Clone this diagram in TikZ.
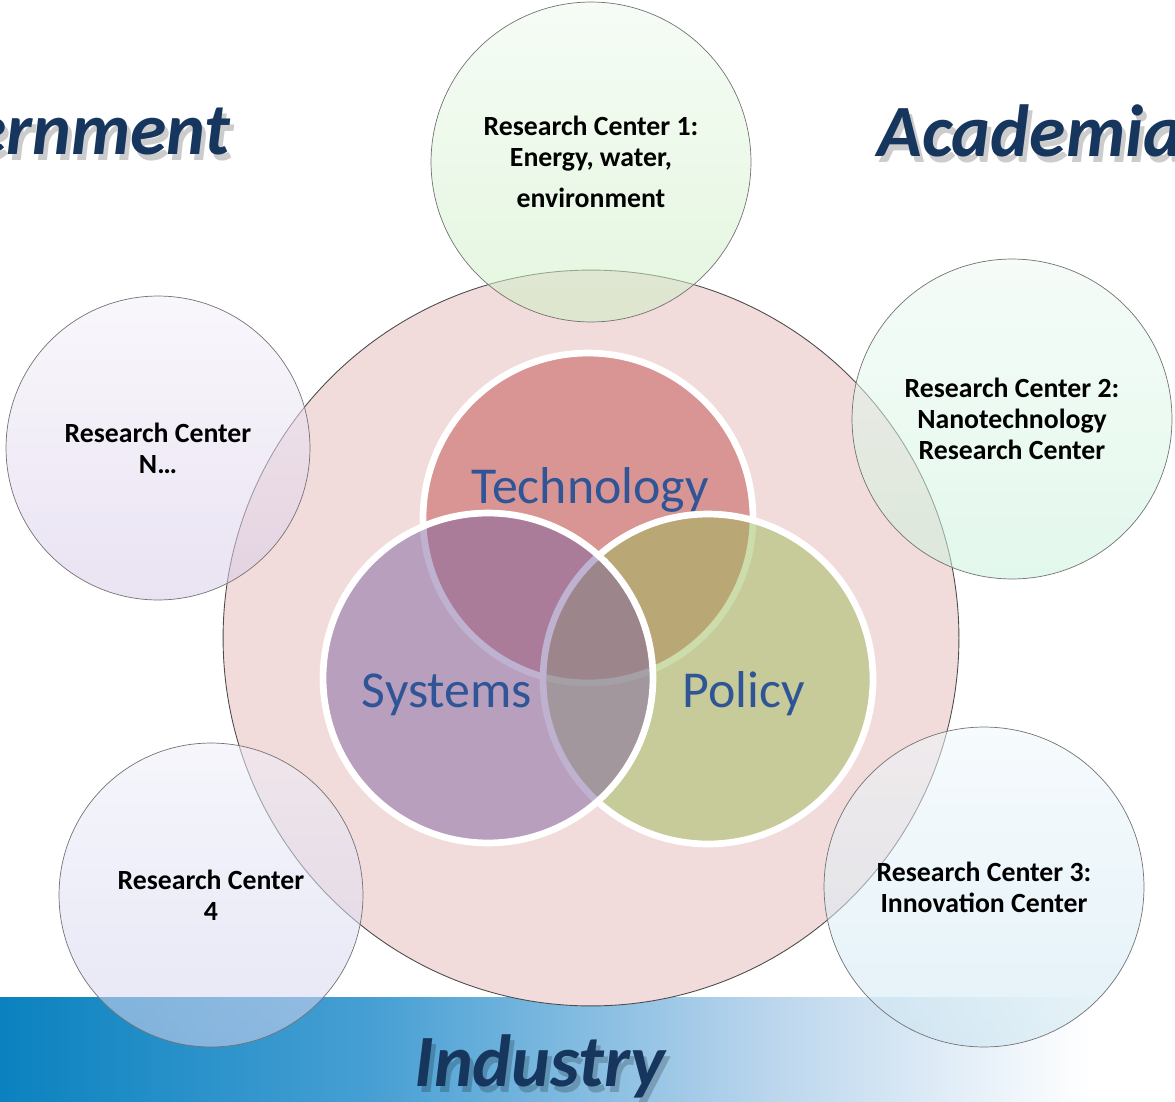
\documentclass[tikz,border=0pt]{standalone}
\usepackage{fontspec}
\setmainfont{Carlito}
\usetikzlibrary{positioning}
\usetikzlibrary{calc}
\definecolor{navy}{HTML}{17365D}
\definecolor{vennblue}{HTML}{2F5596}
\definecolor{ringpink}{HTML}{F2DCDB}
\definecolor{techred}{HTML}{C0504D}
\definecolor{syspurple}{HTML}{8064A2}
\definecolor{polgreen}{HTML}{9BBB59}
\definecolor{bandblue}{HTML}{0A82BF}
\definecolor{bandmid}{HTML}{48A0D4}
\definecolor{bandlight}{HTML}{B8D4EC}
\definecolor{greentop}{HTML}{EEF9EE}
\definecolor{greenbot}{HTML}{CDEFC4}
\definecolor{minttop}{HTML}{EEF9F3}
\definecolor{mintbot}{HTML}{CBF2DC}
\definecolor{skytop}{HTML}{EFF7FB}
\definecolor{skybot}{HTML}{CCE6F1}
\definecolor{lavtop}{HTML}{EEEEF9}
\definecolor{lavbot}{HTML}{D2D2EE}
\definecolor{liltop}{HTML}{F4F0F9}
\definecolor{lilbot}{HTML}{D8CCE8}
\tikzstyle{ring}=[circle,fill=ringpink,draw=black!70,line width=0.5pt,minimum size=14.72cm,inner sep=0pt]
\tikzstyle{venn}=[circle,draw=white,line width=3.8pt,fill opacity=0.5,minimum size=6.6cm,inner sep=0pt]
\tikzstyle{venntext}=[text=vennblue,font=\fontsize{29.5}{35}\selectfont,anchor=base,inner sep=0pt]
\tikzstyle{rcbig}=[circle,draw=black!55,line width=0.4pt,fill opacity=0.55,text opacity=1,minimum size=6.4cm,inner sep=0pt,align=center,font=\fontsize{15.8}{17.6}\selectfont\bfseries]
\tikzstyle{rcsmall}=[rcbig,minimum size=6.08cm]
\tikzstyle{sector}=[text=navy,font=\fontsize{42}{50}\selectfont\bfseries\itshape,inner sep=0pt]
\tikzstyle{sectorshadow}=[sector,text=black,text opacity=0.2,shift={(4,6)}]

\begin{document}
\begin{tikzpicture}[x=0.02cm,y=-0.02cm]

    \useasboundingbox (0,0) rectangle (1175,1101);
    \clip (0,0) rectangle (1175,1101);

    \shade[left color=bandblue,right color=bandmid] (0,997) rectangle (380,1101);
    \shade[left color=bandmid,right color=bandlight] (379,997) rectangle (760,1101);
    \shade[left color=bandlight,right color=white] (759,997) rectangle (1090,1101);
    \fill[white] (1089,997) rectangle (1175,1101);

    \node[ring] (ring) at (591,638) {};

    \node[venn,fill=techred] (tech) at (588,518) {};
    \node[venntext] (techlabel) at ($(tech)+(2,-15)$) {Technology};
    \node[venn,fill=polgreen] (pol) at (708,679) {};
    \node[venn,fill=syspurple] (sys) at (488,678) {};
    \node[venntext] (syslabel) at ($(sys)+(-41,29)$) {Systems};
    \node[venntext] (pollabel) at ($(pol)+(36,28)$) {Policy};

    \foreach \pos/\name/\style/\top/\bot/\txt in {
        {(591,162)/rcone/rcbig/greentop/greenbot/{Research Center 1:\\Energy, water,\\[6pt]environment}},
        {(1012,419)/rctwo/rcbig/minttop/mintbot/{Research Center 2:\\Nanotechnology\\Research Center}},
        {(984,887)/rcthree/rcbig/skytop/skybot/{Research Center 3:\\Innovation Center}},
        {(211,895)/rcfour/rcsmall/lavtop/lavbot/{Research Center\\4}},
        {(158,448)/rcn/rcsmall/liltop/lilbot/{Research Center\\N\dots}}}
        \node[\style,top color=\top,bottom color=\bot] (\name) at \pos {\txt};

    \foreach \pos/\name/\anc/\txt in {{(231,155)/gov/base east/Government}, {(877,157)/acad/base west/Academia}, {(540,1086)/ind/base/Industry}}
    {
        \node[sectorshadow,anchor=\anc] at \pos {\txt};
        \node[sector,anchor=\anc] (\name) at \pos {\txt};
    }

\end{tikzpicture}
\end{document}
